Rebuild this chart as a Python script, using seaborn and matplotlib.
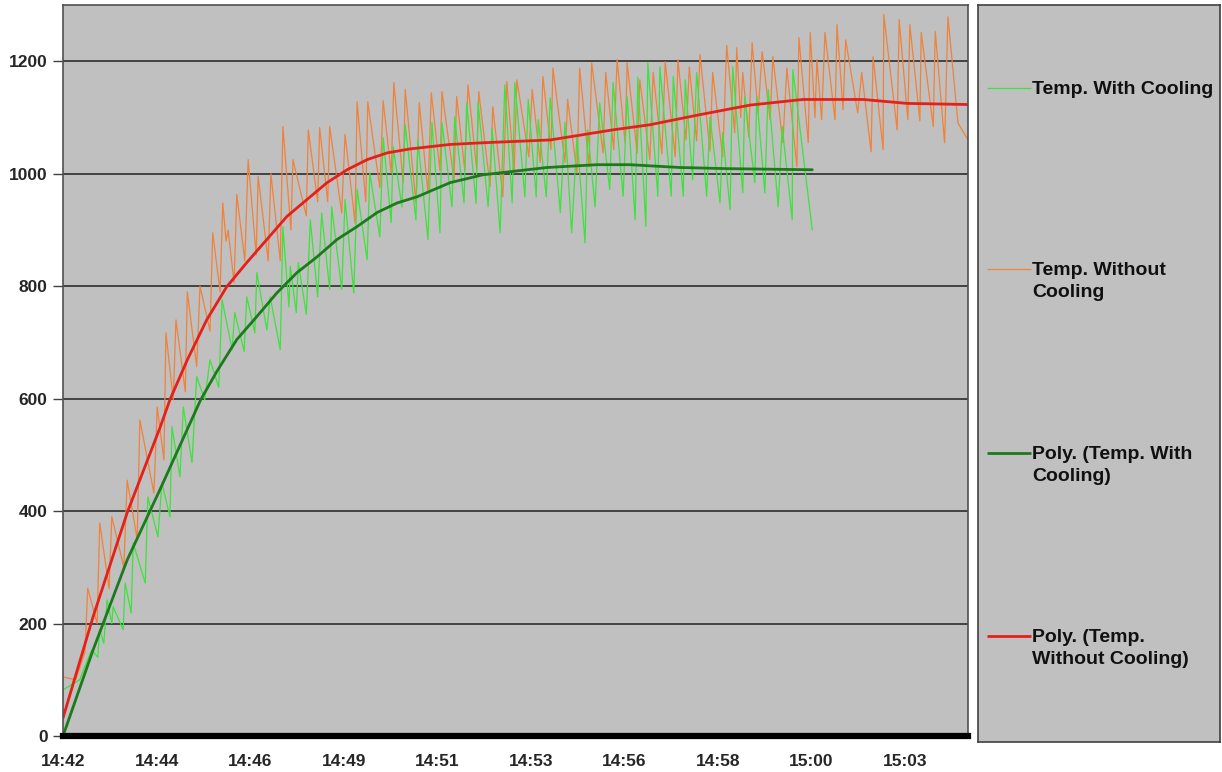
import numpy as np
import pandas as pd
import matplotlib
matplotlib.use("Agg")
import matplotlib.pyplot as plt
import seaborn as sns
from matplotlib.ticker import MultipleLocator, FuncFormatter

# ---------------- data (time in seconds after 14:42:00) ----------------
t_without = [0,19,33,37,51,55,69,73,91,96,
             111,115,136,141,151,154,165,169,183,186,
             200,205,220,224,235,239,244,247,256,260,
             272,277,289,292,307,311,325,329,341,344,
             364,367,381,384,396,399,417,422,437,440,
             453,456,474,479,491,495,509,512,528,533,
             546,551,564,567,585,589,601,606,619,622,
             639,643,658,664,675,679,697,702,714,718,
             730,733,751,755,769,773,787,791,808,812,
             824,829,841,844,859,863,878,883,896,901,
             916,920,932,937,948,953,968,972,987,993,
             1005,1008,1014,1017,1026,1031,1040,1046,1058,1062,
             1077,1083,1098,1101,1115,1118,1125,1128,1135,1140,
             1155,1158,1167,1171,1189,1195,1209,1212,1227,1228,
             1248,1251,1264,1267,1282,1284,1302,1305,1319,1324,
             1339,1354]
temp_without = [105,100,150,263,200,379,262,390,300,455,
                350,562,432,585,491,717,598,740,612,790,
                657,800,720,895,790,948,880,900,806,963,
                845,1025,855,995,845,1000,845,1084,900,1025,
                925,1078,950,1082,950,1084,930,1070,912,1128,
                950,1128,975,1130,1001,1162,984,1150,948,1126,
                966,1144,1005,1146,989,1137,1007,1158,1007,1146,
                977,1119,959,1164,1001,1167,1030,1150,1020,1173,
                1043,1188,1020,1132,1001,1188,1012,1197,1037,1180,
                1043,1203,1055,1197,1037,1167,1025,1180,1035,1199,
                1030,1203,1060,1190,1058,1212,1040,1180,1030,1228,
                1073,1224,1100,1180,1066,1233,1108,1217,1096,1208,
                1055,1188,1012,1242,1055,1251,1100,1203,1096,1251,
                1096,1265,1114,1238,1108,1180,1039,1208,1043,1283,
                1078,1274,1096,1265,1094,1251,1084,1253,1055,1279,
                1090,1060]

t_with = [0,18,25,37,43,52,55,61,66,73,
          75,90,93,102,105,123,127,142,148,160,
          163,175,180,193,200,212,220,233,238,253,
          257,271,275,287,290,305,310,325,329,338,
          340,349,352,364,370,381,387,399,402,417,
          422,435,440,455,459,474,479,491,494,507,
          512,528,531,546,552,564,567,582,586,600,
          604,618,621,636,642,654,661,672,676,691,
          696,708,711,723,729,744,751,761,769,781,
          785,796,803,818,823,838,844,856,860,872,
          875,890,893,910,913,928,931,942,948,963,
          968,983,987,998,1002,1017,1020,1035,1038,1050,
          1055,1070,1076,1091,1092,1121]
temp_with = [82,95,100,136,153,140,189,165,242,200,
             230,189,272,219,343,272,425,354,450,390,
             550,461,585,486,639,598,669,620,776,687,
             753,684,781,717,824,722,781,687,906,763,
             835,753,842,750,918,781,930,794,941,794,
             954,788,972,847,1001,888,1064,913,1048,941,
             1087,918,1060,883,1091,895,1091,941,1101,948,
             1126,947,1128,941,1080,895,1158,948,1162,959,
             1132,959,1096,959,1135,931,1091,895,1066,877,
             1078,941,1126,972,1162,960,1137,918,1171,906,
             1197,960,1190,960,1173,960,1167,989,1180,960,
             1101,948,1073,936,1190,966,1137,984,1137,966,
             1150,941,1084,918,1185,900]

t_poly_without = [0,45,96,145,160,186,215,245,275,305,335,365,395,425,455,485,519,
                  579,628,729,823,878,953,1028,1107,1197,1263,1354]
poly_without = [32,212,397,548,598,669,740,799,842,883,924,954,984,1007,1025,1037,1044,
                1052,1055,1060,1078,1087,1105,1122,1132,1132,1125,1123]

t_poly_with = [0,10,45,96,145,206,230,260,290,320,350,380,410,440,470,500,530,
               579,628,724,799,848,923,993,1121]
poly_with = [0,34,153,313,438,598,648,705,746,788,824,852,883,906,931,948,959,
             984,998,1011,1016,1016,1011,1009,1007]

y_ticks = [0, 200, 400, 600, 800, 1000, 1200]

labels = ["Temp. With Cooling", "Temp. Without\nCooling",
          "Poly. (Temp. With\nCooling)", "Poly. (Temp.\nWithout Cooling)"]
colors = ["#3CE33C", "#F0823A", "#1C7A1C", "#E5201A"]
widths = [0.9, 0.9, 2.0, 2.0]

# ---------------- style ----------------
sns.set_style("white")
plt.rcParams['font.family'] = ['Liberation Sans', 'DejaVu Sans']
plt.rcParams['font.weight'] = 'bold'
plt.rcParams['font.size'] = 12.5

W, H = 1222, 772
fig = plt.figure(figsize=(W / 100, H / 100), dpi=100)
fig.patch.set_facecolor("white")

ax = fig.add_axes([63 / W, 1 - 736 / H, (968 - 63) / W, (736 - 5) / H])
ax.set_facecolor("#C0C0C0")

series = [(t_with, temp_with), (t_without, temp_without),
          (t_poly_with, poly_with), (t_poly_without, poly_without)]
order = [1, 0, 3, 2]
for i in order:
    tx, vy = series[i]
    df = pd.DataFrame({"t": tx, "v": vy})
    sns.lineplot(data=df, x="t", y="v", ax=ax, color=colors[i], lw=widths[i],
                 estimator=None, sort=False, legend=False)

ax.set_xlim(0, 1354)
ax.set_ylim(0, 1300)
ax.set_xlabel("")
ax.set_ylabel("")
ax.set_yticks(y_ticks)
ax.yaxis.grid(True, color="#202020", lw=1.1)
ax.xaxis.grid(False)
ax.set_axisbelow(True)

def fmt(s, pos):
    total = 14 * 3600 + 42 * 60 + int(round(s))
    return f"{total // 3600}:{(total % 3600) // 60:02d}"

ax.xaxis.set_major_locator(MultipleLocator(140))
ax.xaxis.set_major_formatter(FuncFormatter(fmt))
ax.tick_params(axis="x", length=0, pad=13, labelsize=12.5)
ax.tick_params(axis="y", length=7, width=1, color="#404040", pad=4, labelsize=12.5, left=True)
for lab in ax.get_xticklabels() + ax.get_yticklabels():
    lab.set_fontweight("bold")

ax.spines["bottom"].set_color("black")
ax.spines["bottom"].set_linewidth(4.5)
for s in ["left", "top", "right"]:
    ax.spines[s].set_color("#505050")
    ax.spines[s].set_linewidth(1.2)

# ---------------- legend panel ----------------
lx0, lx1, ly0, ly1 = 978, 1220, 5, 742
lax = fig.add_axes([lx0 / W, 1 - ly1 / H, (lx1 - lx0) / W, (ly1 - ly0) / H])
lax.set_facecolor("#C0C0C0")
lax.set_xticks([])
lax.set_yticks([])
for s in lax.spines.values():
    s.set_color("#404040")
    s.set_linewidth(1.2)
lax.set_xlim(lx0, lx1)
lax.set_ylim(ly1, ly0)

entry_y = [88, 269, 453, 636]
for i, yy in enumerate(entry_y):
    lax.plot([987, 1031], [yy, yy], color=colors[i], lw=widths[i], solid_capstyle="butt")
    lax.text(1032, yy - 7, labels[i], ha="left", va="top", fontsize=14,
             fontweight="bold", linespacing=1.4, color="#101010")

fig.savefig("out.png", dpi=100, facecolor="white")
